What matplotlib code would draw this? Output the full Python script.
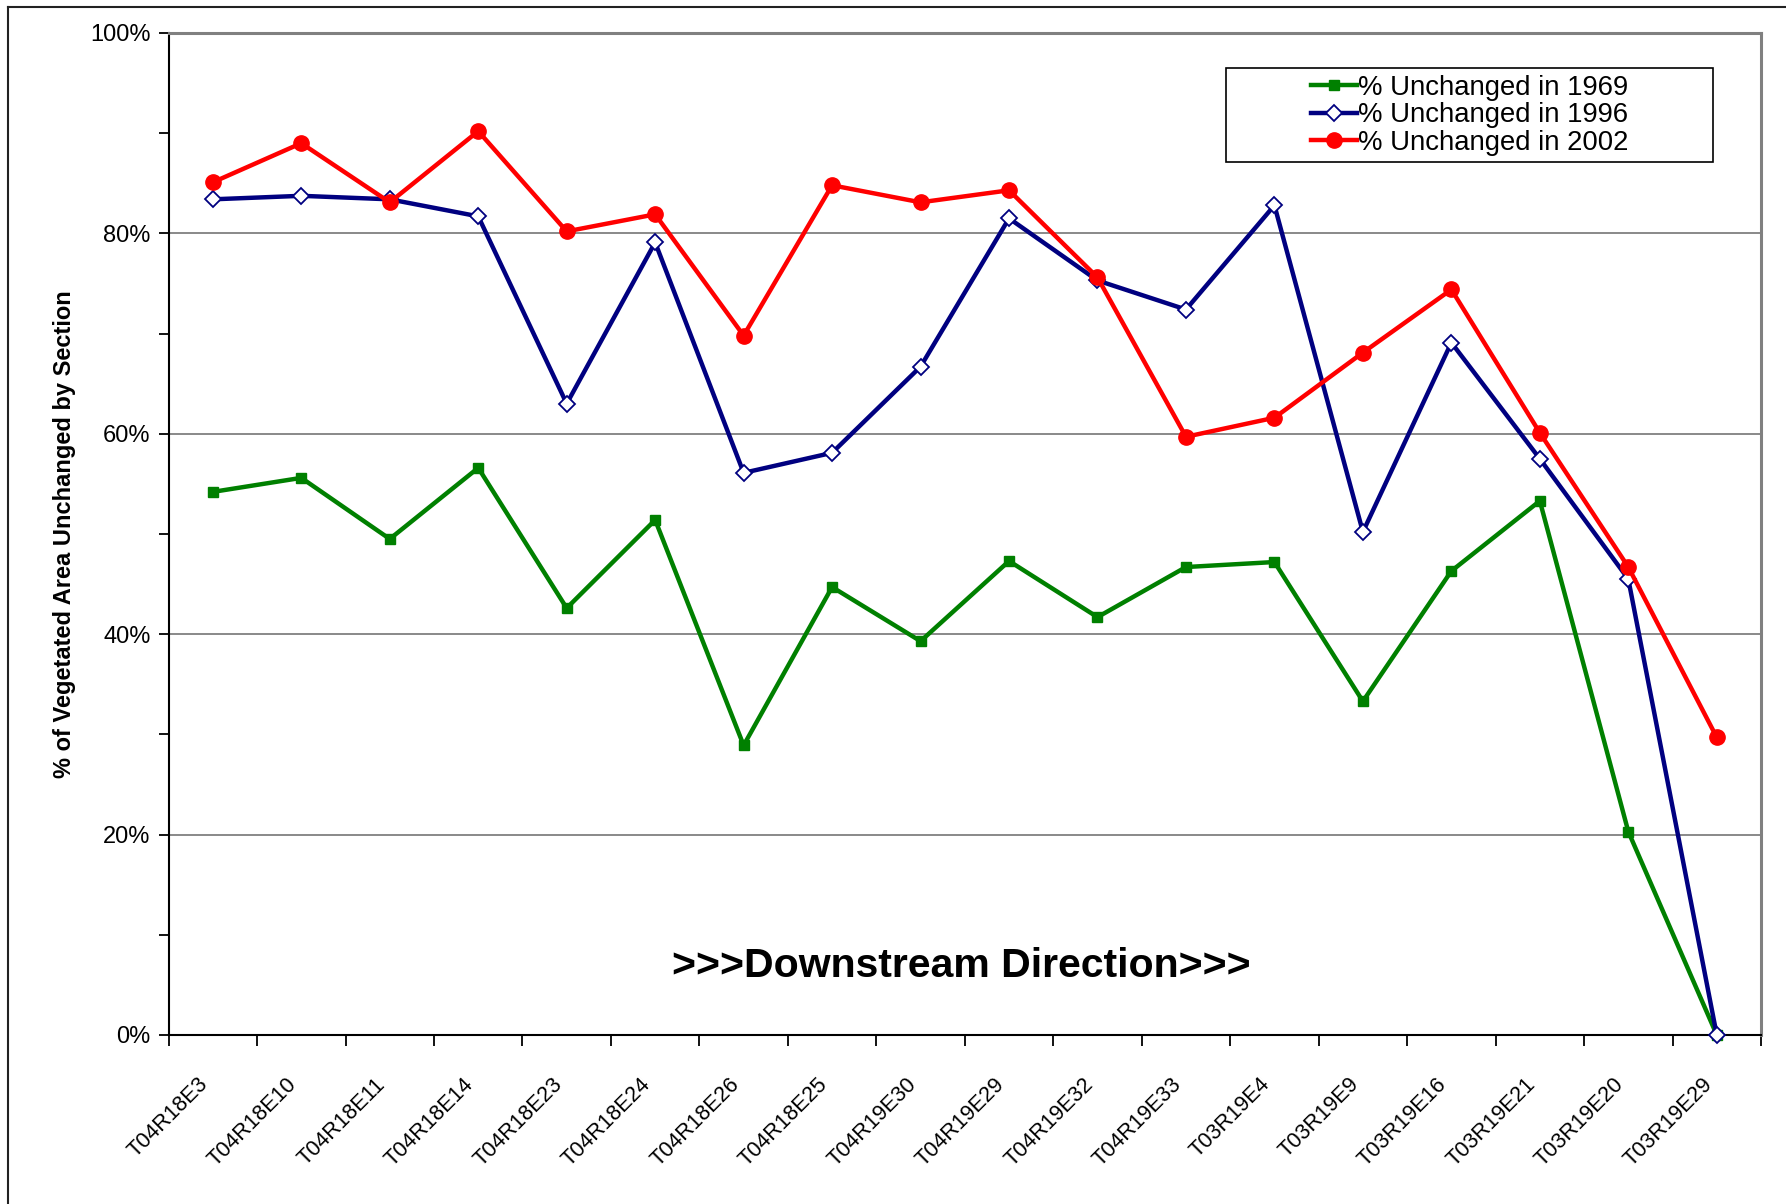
import numpy as np
import matplotlib
matplotlib.use("Agg")
from matplotlib import pyplot as plt
from matplotlib.patches import Rectangle
from matplotlib.lines import Line2D
from matplotlib.transforms import ScaledTranslation

plt.rcParams['font.family'] = ['Liberation Sans', 'DejaVu Sans']

sections = ["T04R18E3", "T04R18E10", "T04R18E11", "T04R18E14", "T04R18E23",
            "T04R18E24", "T04R18E26", "T04R18E25", "T04R19E30", "T04R19E29",
            "T04R19E32", "T04R19E33", "T03R19E4", "T03R19E9", "T03R19E16",
            "T03R19E21", "T03R19E20", "T03R19E29"]

unchanged_1969 = [54.2, 55.6, 49.5, 56.6, 42.6, 51.4, 28.9, 44.7, 39.3,
                  47.3, 41.7, 46.7, 47.2, 33.3, 46.3, 53.3, 20.3, 0.0]
unchanged_1996 = [83.4, 83.75, 83.4, 81.7, 63.0, 79.1, 56.1, 58.1, 66.7,
                  81.5, 75.3, 72.4, 82.8, 50.2, 69.1, 57.5, 45.5, 0.0]
unchanged_2002 = [85.1, 89.0, 83.1, 90.2, 80.2, 81.9, 69.8, 84.8, 83.1,
                  84.3, 75.6, 59.7, 61.6, 68.1, 74.4, 60.1, 46.7, 29.7]

y_ticks = [0, 20, 40, 60, 80, 100]

fig = plt.figure(figsize=(17.86, 12.04), dpi=100)
ax = fig.add_axes([0.0944, 0.1404, 0.8916, 0.8322])

x = np.arange(len(sections))
lw = 3.2
ax.plot(x, unchanged_1969, color='#008000', lw=lw, marker='s', ms=6.5,
        mfc='#008000', mec='#008000', zorder=3, clip_on=False)
ax.plot(x, unchanged_1996, color='#000080', lw=lw, marker='D', ms=8.5,
        mfc='white', mec='#000080', mew=1.3, zorder=4, clip_on=False)
ax.plot(x, unchanged_2002, color='#FF0000', lw=lw, marker='o', ms=11,
        mfc='#FF0000', mec='#FF0000', zorder=5, clip_on=False)

ax.set_xlim(-0.5, len(sections) - 0.5)
ax.set_ylim(0, 100)

# y axis
ax.set_yticks(y_ticks)
ax.set_yticklabels(["%d%%" % v for v in y_ticks], fontsize=17)
ax.set_yticks(np.arange(10, 100, 20), minor=True)
ax.tick_params(axis='y', which='both', direction='out', length=7, width=1.3,
               color='black', pad=6)
ax.grid(axis='y', which='major', color='#808080', lw=1.3)

# x axis: labels at categories, tick marks between them
ax.set_xticks(x)
ax.set_xticklabels(sections, fontsize=15.6, rotation=45, ha='right',
                   va='top', rotation_mode='anchor')
ax.set_xticks(np.arange(-0.5, len(sections), 1), minor=True)
ax.tick_params(axis='x', which='major', length=0, pad=28)
ax.tick_params(axis='x', which='minor', direction='out', length=8, width=1.3,
               color='black')
shift = ScaledTranslation(-15 / 100, 0, fig.dpi_scale_trans)
for lab in ax.get_xticklabels():
    lab.set_transform(lab.get_transform() + shift)

for side in ['left', 'bottom']:
    ax.spines[side].set_color('black')
    ax.spines[side].set_linewidth(1.5)
for side in ['top', 'right']:
    ax.spines[side].set_color('#808080')
    ax.spines[side].set_linewidth(2.2)

ax.set_ylabel("% of Vegetated Area Unchanged by Section", fontsize=17,
              fontweight='bold', labelpad=10)

ax.text(0.498, 0.069, ">>>Downstream Direction>>>", transform=ax.transAxes,
        ha='center', va='center', fontsize=29.5, fontweight='bold')

# legend box
ax.add_patch(Rectangle((0.664, 0.871), 0.306, 0.094, transform=ax.transAxes,
                       facecolor='white', edgecolor='black', lw=1.2, zorder=6))
handles = [
    Line2D([], [], color='#008000', lw=lw, marker='s', ms=6.5, mfc='#008000'),
    Line2D([], [], color='#000080', lw=lw, marker='D', ms=8.5, mfc='white',
           mec='#000080', mew=1.3),
    Line2D([], [], color='#FF0000', lw=lw, marker='o', ms=11),
]
leg = ax.legend(handles, ["% Unchanged in 1969", "% Unchanged in 1996",
                          "% Unchanged in 2002"],
                loc='center', bbox_to_anchor=(0.817, 0.918), frameon=False,
                fontsize=19.8, handlelength=1.67, handletextpad=0.05,
                labelspacing=0.06, borderpad=0.1)
leg.set_zorder(7)

# outer chart border
fig.add_artist(Line2D([8 / 1786, 8 / 1786], [0, 1 - 7 / 1204],
                      transform=fig.transFigure, color='#222222', lw=1.5))
fig.add_artist(Line2D([8 / 1786, 1], [1 - 7 / 1204, 1 - 7 / 1204],
                      transform=fig.transFigure, color='#222222', lw=1.5))

plt.savefig("out.png", dpi=100)
